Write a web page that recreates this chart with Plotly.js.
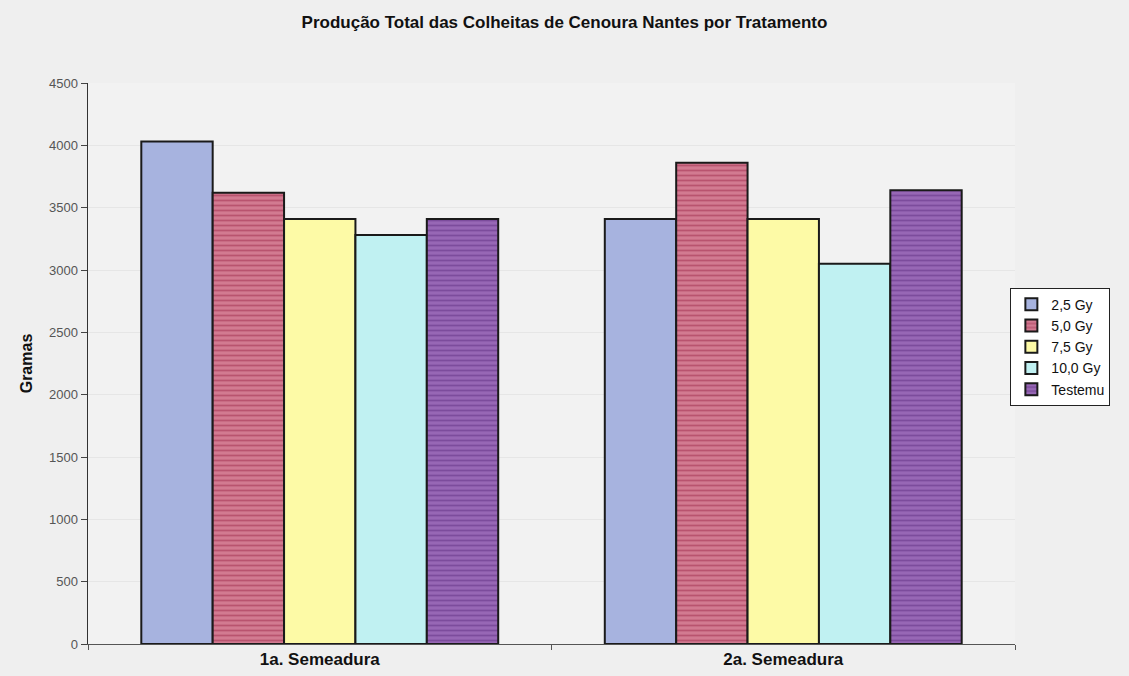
<!DOCTYPE html>
<html>
<head>
<meta charset="utf-8">
<script src="https://cdn.plot.ly/plotly-3.0.1.min.js"></script>
<style>
  html, body { margin: 0; padding: 0; background: #efefef; }
  #chart { width: 1129px; height: 676px; }
</style>
</head>
<body>
<div id="chart"></div>
<script>
// Harvest totals (grams) per sowing, one array per treatment
const semeaduras = ["1a. Semeadura", "2a. Semeadura"];
const dose25 = [4030, 3410];
const dose50 = [3620, 3860];
const dose75 = [3410, 3410];
const dose100 = [3280, 3050];
const testemunha = [3410, 3640];

const seriesNames = ["2,5 Gy", "5,0 Gy", "7,5 Gy", "10,0 Gy", "Testemu"];
const seriesValues = [dose25, dose50, dose75, dose100, testemunha];
const seriesColors = ["#a7b3df", "#d27a91", "#fdfaa6", "#c0f1f2", "#9767b5"];
const seriesPatterns = ["", "-", "", "", "-"];
const patternColors = ["#8e9bd0", "#b9536f", "", "", "#7c4c9c"];

const FONT = "Arial, Liberation Sans, sans-serif";

const traces = seriesNames.map((name, i) => ({
  type: "bar",
  name: name,
  x: semeaduras,
  y: seriesValues[i],
  marker: {
    color: seriesColors[i],
    line: { color: "#1a1a1a", width: 2 },
    pattern: seriesPatterns[i]
      ? { shape: seriesPatterns[i], fgcolor: patternColors[i], bgcolor: seriesColors[i], size: 5, solidity: 0.35 }
      : undefined
  },
  hoverinfo: "x+y+name"
}));

const layout = {
  width: 1129,
  height: 676,
  paper_bgcolor: "#efefef",
  plot_bgcolor: "#f2f2f2",
  margin: { l: 88, r: 114, t: 83, b: 32 },
  title: {
    text: "<b>Produção Total das Colheitas de Cenoura Nantes por Tratamento</b>",
    font: { family: FONT, size: 17, color: "#111" },
    x: 0.5,
    xanchor: "center",
    y: 0.967,
    yanchor: "middle"
  },
  barmode: "group",
  bargap: 0.23,
  bargroupgap: 0,
  xaxis: {
    showline: true,
    linecolor: "#555",
    linewidth: 1,
    ticks: "outside",
    tickson: "boundaries",
    ticklen: 5,
    tickcolor: "#555",
    tickfont: { family: FONT, size: 17, color: "#111" },
    tickprefix: "<b>",
    ticksuffix: "</b>",
    showgrid: false
  },
  yaxis: {
    range: [0, 4500],
    dtick: 500,
    showline: true,
    linecolor: "#333",
    linewidth: 1.5,
    ticks: "outside",
    ticklen: 6,
    tickcolor: "#444",
    tickfont: { family: FONT, size: 13, color: "#555" },
    showgrid: true,
    gridcolor: "#e6e6e6",
    zeroline: false,
    title: {
      text: "<b>Gramas</b>",
      font: { family: FONT, size: 16, color: "#111" },
      standoff: 12
    }
  },
  legend: {
    x: 0.995,
    xanchor: "left",
    y: 0.635,
    yanchor: "top",
    bgcolor: "#ffffff",
    bordercolor: "#222",
    borderwidth: 1,
    font: { family: FONT, size: 14, color: "#111" },
    itemwidth: 30,
    tracegroupgap: 0
  },
  showlegend: true
};

Plotly.newPlot("chart", traces, layout, { displayModeBar: false, staticPlot: true });
</script>
</body>
</html>
